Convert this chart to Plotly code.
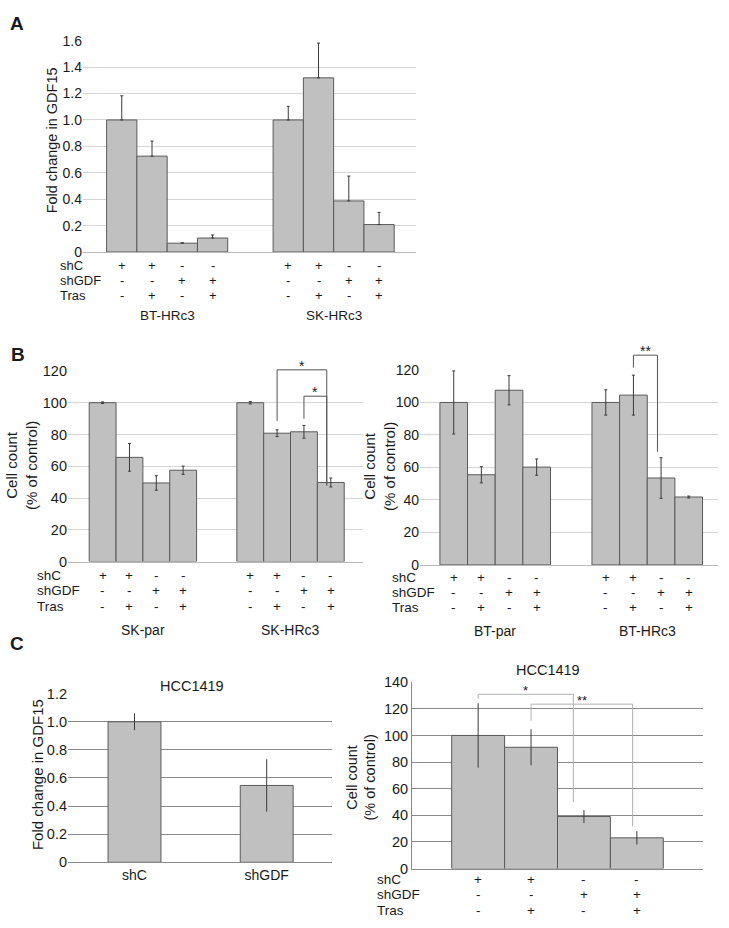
import plotly.graph_objects as go

W, H = 729, 928

# ---------------- data ----------------
row_names = ["shC", "shGDF", "Tras"]
row_signs = [["+", "+", "-", "-"],
             ["-", "-", "+", "+"],
             ["-", "+", "-", "+"]]

# Panel A
a_groups = ["BT-HRc3", "SK-HRc3"]
a_values = [[1.00, 0.726, 0.067, 0.106], [1.00, 1.319, 0.387, 0.208]]
a_err_plus = [[0.183, 0.114, 0.003, 0.023], [0.103, 0.263, 0.188, 0.092]]
a_tickvals = [0, 0.2, 0.4, 0.6, 0.8, 1.0, 1.2, 1.4, 1.6]
a_ticktext = ["0", "0.2", "0.4", "0.6", "0.8", "1.0", "1.2", "1.4", "1.6"]

# Panel B (left / right)
bl_groups = ["SK-par", "SK-HRc3"]
bl_values = [[100, 65.6, 49.5, 57.5], [100, 80.8, 81.7, 49.8]]
bl_err = [[0.5, 8.7, 4.6, 2.6], [0.8, 2.1, 4.0, 2.8]]
br_groups = ["BT-par", "BT-HRc3"]
br_values = [[100, 55.5, 107.5, 60.2], [100, 104.5, 53.5, 41.8]]
br_err = [[19.4, 5.0, 9.0, 5.0], [7.8, 12.3, 12.5, 0.6]]
b_tickvals = [0, 20, 40, 60, 80, 100, 120]

# Panel C (left / right)
cl_categories = ["shC", "shGDF"]
cl_values = [1.00, 0.547]
cl_err = [0.06, 0.186]
cl_tickvals = [0, 0.2, 0.4, 0.6, 0.8, 1.0, 1.2]
cl_ticktext = ["0", "0.2", "0.4", "0.6", "0.8", "1.0", "1.2"]
cr_values = [100, 91.1, 39.1, 23.1]
cr_err = [24.2, 13.5, 4.9, 5.0]
cr_tickvals = [0, 20, 40, 60, 80, 100, 120, 140]

# significance brackets: left bar pos, right pos, left foot, top, right foot, label
bl_brackets = [(6.5, 8.35, 88.5, 120.7, 48, "*"),
               (7.5, 8.35, 90.0, 104.1, 48, "*")]
br_brackets = [(6.5, 7.37, 121.4, 129.1, 69.6, "**")]
cr_brackets = [(0.0, 1.8, 127.5, 130.9, 50.0, "*"),
               (1.0, 2.92, 111.0, 123.5, 31.7, "**")]

GROUP_STEP = 5.5
FONT = "Liberation Sans, Arial, sans-serif"
TXT = "#1a1a1a"
BAR_FILL = "#c0c0c0"
BAR_LINE = "#5a5a5a"


def px_x(p):
    return p / W


def px_y(p):
    return 1 - p / H


# axis geometry (pixel domains, data ranges)
AX = {
    "1": dict(xdom=(83, 416), xr=(-1.28, 9.72), ydom=(248.3, 33.3), yr=(0, 1.6)),
    "2": dict(xdom=(68, 363), xr=(-1.29, 9.7), ydom=(563.3, 369.3), yr=(0, 120)),
    "3": dict(xdom=(420, 718.3), xr=(-1.22, 9.57), ydom=(566.7, 368.3), yr=(0, 120)),
    "4": dict(xdom=(68, 332), xr=(-0.503, 1.494), ydom=(869.3, 697.7), yr=(0, 1.2)),
    "5": dict(xdom=(412, 703.3), xr=(-1.25, 4.256), ydom=(875.7, 686), yr=(0, 140)),
}


def data_to_paper_x(k, v):
    a = AX[k]
    d0, d1 = px_x(a["xdom"][0]), px_x(a["xdom"][1])
    r0, r1 = a["xr"]
    return d0 + (v - r0) / (r1 - r0) * (d1 - d0)


def data_to_paper_y(k, v):
    a = AX[k]
    d0, d1 = px_y(a["ydom"][0]), px_y(a["ydom"][1])
    r0, r1 = a["yr"]
    return d0 + (v - r0) / (r1 - r0) * (d1 - d0)


def group_positions(groups, n):
    return [g * GROUP_STEP + i for g in range(len(groups)) for i in range(n)]


fig = go.Figure()
annotations = []
shapes = []


def ref(k):
    return ("x", "y") if k == "1" else ("x" + k, "y" + k)


def add_bars(k, x, y, err_plus, err_minus, cap, width):
    xa, ya = ref(k)
    fig.add_trace(go.Bar(
        x=x, y=y, width=width, xaxis=xa, yaxis=ya,
        marker=dict(color=BAR_FILL, line=dict(color=BAR_LINE, width=1)),
        error_y=dict(type="data", array=err_plus, arrayminus=err_minus,
                     symmetric=False, color="#3a3a3a", thickness=1, width=cap),
        showlegend=False, hoverinfo="skip"))


def add_rows(k, xs, ys_px, x_left_px, size):
    xref = ref(k)[0]
    for r, name in enumerate(row_names):
        annotations.append(dict(x=px_x(x_left_px), y=px_y(ys_px[r]), xref="paper", yref="paper",
                                text=name, showarrow=False, xanchor="left", yanchor="middle",
                                font=dict(size=size, color=TXT, family=FONT)))
        signs = row_signs[r]
        for i, xv in enumerate(xs):
            annotations.append(dict(x=xv, y=px_y(ys_px[r]), xref=xref, yref="paper",
                                    text=signs[i % len(signs)], showarrow=False,
                                    xanchor="center", yanchor="middle",
                                    font=dict(size=size, color=TXT, family=FONT)))


def add_group_labels(k, groups, n, y_px, size):
    xref = ref(k)[0]
    for g, name in enumerate(groups):
        annotations.append(dict(x=g * GROUP_STEP + (n - 1) / 2, y=px_y(y_px), xref=xref, yref="paper",
                                text=name, showarrow=False, xanchor="center", yanchor="middle",
                                font=dict(size=size, color=TXT, family=FONT)))


def add_brackets(k, brackets, color, size):
    for (x0, x1, f0, top, f1, label) in brackets:
        X0, X1 = data_to_paper_x(k, x0), data_to_paper_x(k, x1)
        F0, T, F1 = data_to_paper_y(k, f0), data_to_paper_y(k, top), data_to_paper_y(k, f1)
        shapes.append(dict(type="path", xref="paper", yref="paper", layer="above",
                           path=f"M {X0},{F0} L {X0},{T} L {X1},{T} L {X1},{F1}",
                           line=dict(color=color, width=1)))
        annotations.append(dict(x=(X0 + X1) / 2, y=T, xref="paper", yref="paper", text=label,
                                showarrow=False, xanchor="center", yanchor="bottom", yshift=-6,
                                font=dict(size=size, color=TXT, family=FONT)))


def add_text(x_px, y_px, text, size, angle=0, bold=False):
    annotations.append(dict(x=px_x(x_px), y=px_y(y_px), xref="paper", yref="paper",
                            text=f"<b>{text}</b>" if bold else text, showarrow=False,
                            textangle=angle, xanchor="center", yanchor="middle",
                            font=dict(size=size, color=TXT, family=FONT)))


# ---- Panel A ----
ax_x = group_positions(a_groups, 4)
add_bars("1", ax_x, sum(a_values, []), sum(a_err_plus, []), [0] * len(ax_x), 1.5, 1)
add_rows("1", ax_x, [262.5, 277.5, 293.0], 58.3, 13)
add_group_labels("1", a_groups, 4, 313.3, 13.5)
add_text(51.7, 135, "Fold change in GDF15", 14.5, angle=-90)
add_text(17, 15.5, "A", 19, bold=True)

# ---- Panel B left ----
bl_x = group_positions(bl_groups, 4)
e = sum(bl_err, [])
add_bars("2", bl_x, sum(bl_values, []), e, e, 1.5, 1)
add_rows("2", bl_x, [577.5, 592.8, 608.5], 35, 13.5)
add_group_labels("2", bl_groups, 4, 633.3, 14)
add_brackets("2", bl_brackets, "#555555", 14)
add_text(22, 466, "Cell count<br>(% of control)", 15, angle=-90)
add_text(17.5, 352.5, "B", 19, bold=True)

# ---- Panel B right ----
br_x = group_positions(br_groups, 4)
e = sum(br_err, [])
add_bars("3", br_x, sum(br_values, []), e, e, 1.5, 1)
add_rows("3", br_x, [579.3, 594.5, 610.0], 390, 13.5)
add_group_labels("3", br_groups, 4, 633.8, 14)
add_brackets("3", br_brackets, "#555555", 14)
add_text(380, 467, "Cell count<br>(% of control)", 15, angle=-90)

# ---- Panel C left ----
cl_x = list(range(len(cl_categories)))
add_bars("4", cl_x, cl_values, cl_err, cl_err, 0, 0.4)
add_text(37.5, 780, "Fold change in GDF15", 15, angle=-90)
add_text(191.7, 690, "HCC1419", 14.5)
add_text(17, 646.5, "C", 19, bold=True)

# ---- Panel C right ----
cr_x = list(range(len(cr_values)))
add_bars("5", cr_x, cr_values, cr_err, cr_err, 0, 1)
add_rows("5", cr_x, [887.0, 902.5, 918.0], 375, 13.5)
add_brackets("5", cr_brackets, "#b0b0b0", 13)
add_text(361, 783, "Cell count<br>(% of control)", 14.5, angle=-90)
add_text(548.3, 673.3, "HCC1419", 14.5)


def xaxis(k, linecolor, **kw):
    a = AX[k]
    d = dict(domain=[px_x(a["xdom"][0]), px_x(a["xdom"][1])], range=list(a["xr"]),
             showgrid=False, zeroline=False, showline=True, linecolor=linecolor, linewidth=1,
             ticks="", fixedrange=True, anchor=ref(k)[1])
    d.update(kw)
    return d


def yaxis(k, tickvals, ticktext, gridcolor, size, **kw):
    a = AX[k]
    d = dict(domain=[px_y(a["ydom"][0]), px_y(a["ydom"][1])], range=list(a["yr"]),
             tickvals=tickvals, ticktext=ticktext,
             showgrid=True, gridcolor=gridcolor, gridwidth=1, zeroline=False, showline=False,
             ticks="", anchor=ref(k)[0], fixedrange=True,
             tickfont=dict(size=size, color=TXT, family=FONT))
    d.update(kw)
    return d


LIGHT = "#d4d4d4"
DARK = "#8a8a8a"

fig.update_layout(
    width=W, height=H, margin=dict(l=0, r=0, t=0, b=0),
    paper_bgcolor="white", plot_bgcolor="white", bargap=0,
    font=dict(family=FONT, color=TXT),
    xaxis=xaxis("1", "#b8b8b8", showticklabels=False),
    yaxis=yaxis("1", a_tickvals, a_ticktext, LIGHT, 14),
    xaxis2=xaxis("2", "#b8b8b8", showticklabels=False),
    yaxis2=yaxis("2", b_tickvals, [str(v) for v in b_tickvals], LIGHT, 14.5),
    xaxis3=xaxis("3", "#b8b8b8", showticklabels=False),
    yaxis3=yaxis("3", b_tickvals, [str(v) for v in b_tickvals], LIGHT, 14),
    xaxis4=xaxis("4", DARK, tickvals=cl_x, ticktext=cl_categories,
                 tickfont=dict(size=14, color=TXT, family=FONT)),
    yaxis4=yaxis("4", cl_tickvals, cl_ticktext, DARK, 14.5),
    xaxis5=xaxis("5", DARK, showticklabels=False),
    yaxis5=yaxis("5", cr_tickvals, [str(v) for v in cr_tickvals], DARK, 14.5,
                 showline=True, linecolor=DARK, linewidth=1),
    annotations=annotations,
    shapes=shapes,
    hovermode=False,
)

# remove the default 8px page margin so the figure fills the window exactly
fig.write_html("out.html",
               config={"displayModeBar": False, "staticPlot": True},
               post_script="document.body.style.margin='0';document.body.style.overflow='hidden';")
